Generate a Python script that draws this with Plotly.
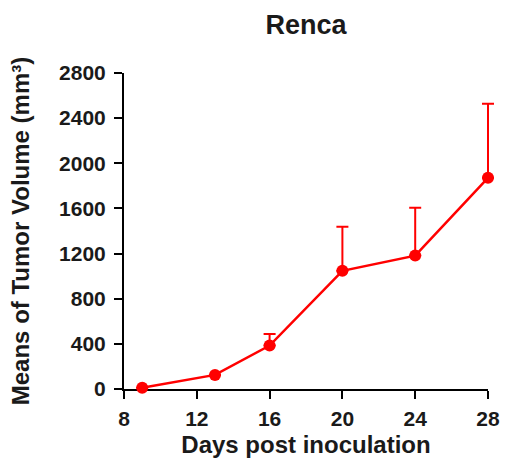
import plotly.graph_objects as go

days = [9, 13, 16, 20, 24, 28]
means = [12, 125, 385, 1047, 1182, 1871]
err_up = [0, 0, 103, 391, 424, 657]
x_ticks = [8, 12, 16, 20, 24, 28]
y_ticks = [0, 400, 800, 1200, 1600, 2000, 2400, 2800]

FONT = "Liberation Sans, Arial, sans-serif"
TXT = "#1a1a1a"

# layout geometry (figure pixels)
W, H = 505, 461
L, T, B = 124, 73, 72
PLOT_W = 364          # width of the visible x axis (8..28)
EXTRA = 8             # room on the right so the last error cap isn't clipped
R = W - L - PLOT_W - EXTRA
x_min, x_max = 8, 28
frac = PLOT_W / (PLOT_W + EXTRA)
x2_max = x_min + (x_max - x_min) / frac

fig = go.Figure()
# invisible copy on the visible axes so the x axis is drawn
fig.add_trace(go.Scatter(
    x=days, y=means, mode="markers", xaxis="x", yaxis="y",
    marker=dict(opacity=0, size=1), hoverinfo="skip", showlegend=False,
))
fig.add_trace(go.Scatter(
    x=days, y=means, mode="lines+markers",
    xaxis="x2", yaxis="y",
    line=dict(color="#FF0000", width=2.5),
    marker=dict(color="#FF0000", size=12),
    error_y=dict(type="data", symmetric=False, array=err_up,
                 arrayminus=[0]*len(days), color="#FF0000",
                 thickness=2, width=6),
    cliponaxis=False,
    showlegend=False,
))

axis_common = dict(
    showline=True, linecolor="black", linewidth=2,
    ticks="outside", tickcolor="black", tickwidth=2, ticklen=8,
    showgrid=False, zeroline=False,
    tickfont=dict(family=FONT, size=21, color=TXT, weight="bold"),
)

fig.update_layout(
    width=W, height=H,
    margin=dict(l=L, r=R, t=T, b=B, autoexpand=False),
    paper_bgcolor="white", plot_bgcolor="rgba(0,0,0,0)",
    title=dict(text="<b>Renca</b>", x=0.5 * frac, xanchor="center",
               xref="paper", y=1 - 25/H, yanchor="middle",
               font=dict(family=FONT, size=27, color=TXT)),
    xaxis=dict(range=[x_min, x_max], tickvals=x_ticks, domain=[0, frac],
               anchor="y", **axis_common, ticklabelstandoff=2,
               title=dict(text="<b>Days post inoculation</b>", standoff=7,
                          font=dict(family=FONT, size=24, color=TXT))),
    xaxis2=dict(range=[x_min, x2_max], domain=[0, 1],
                anchor="y", visible=False),
    yaxis=dict(range=[0, 2800], tickvals=y_ticks, anchor="x", **axis_common,
               ticklabelstandoff=4,
               title=dict(text="<b>Means of Tumor Volume (mm³)</b>", standoff=23,
                          font=dict(family=FONT, size=24, color=TXT))),
)

fig.write_html("out.html",
               config={"displayModeBar": False},
               post_script="document.body.style.margin='0';"
                           "document.body.style.overflow='hidden';")
